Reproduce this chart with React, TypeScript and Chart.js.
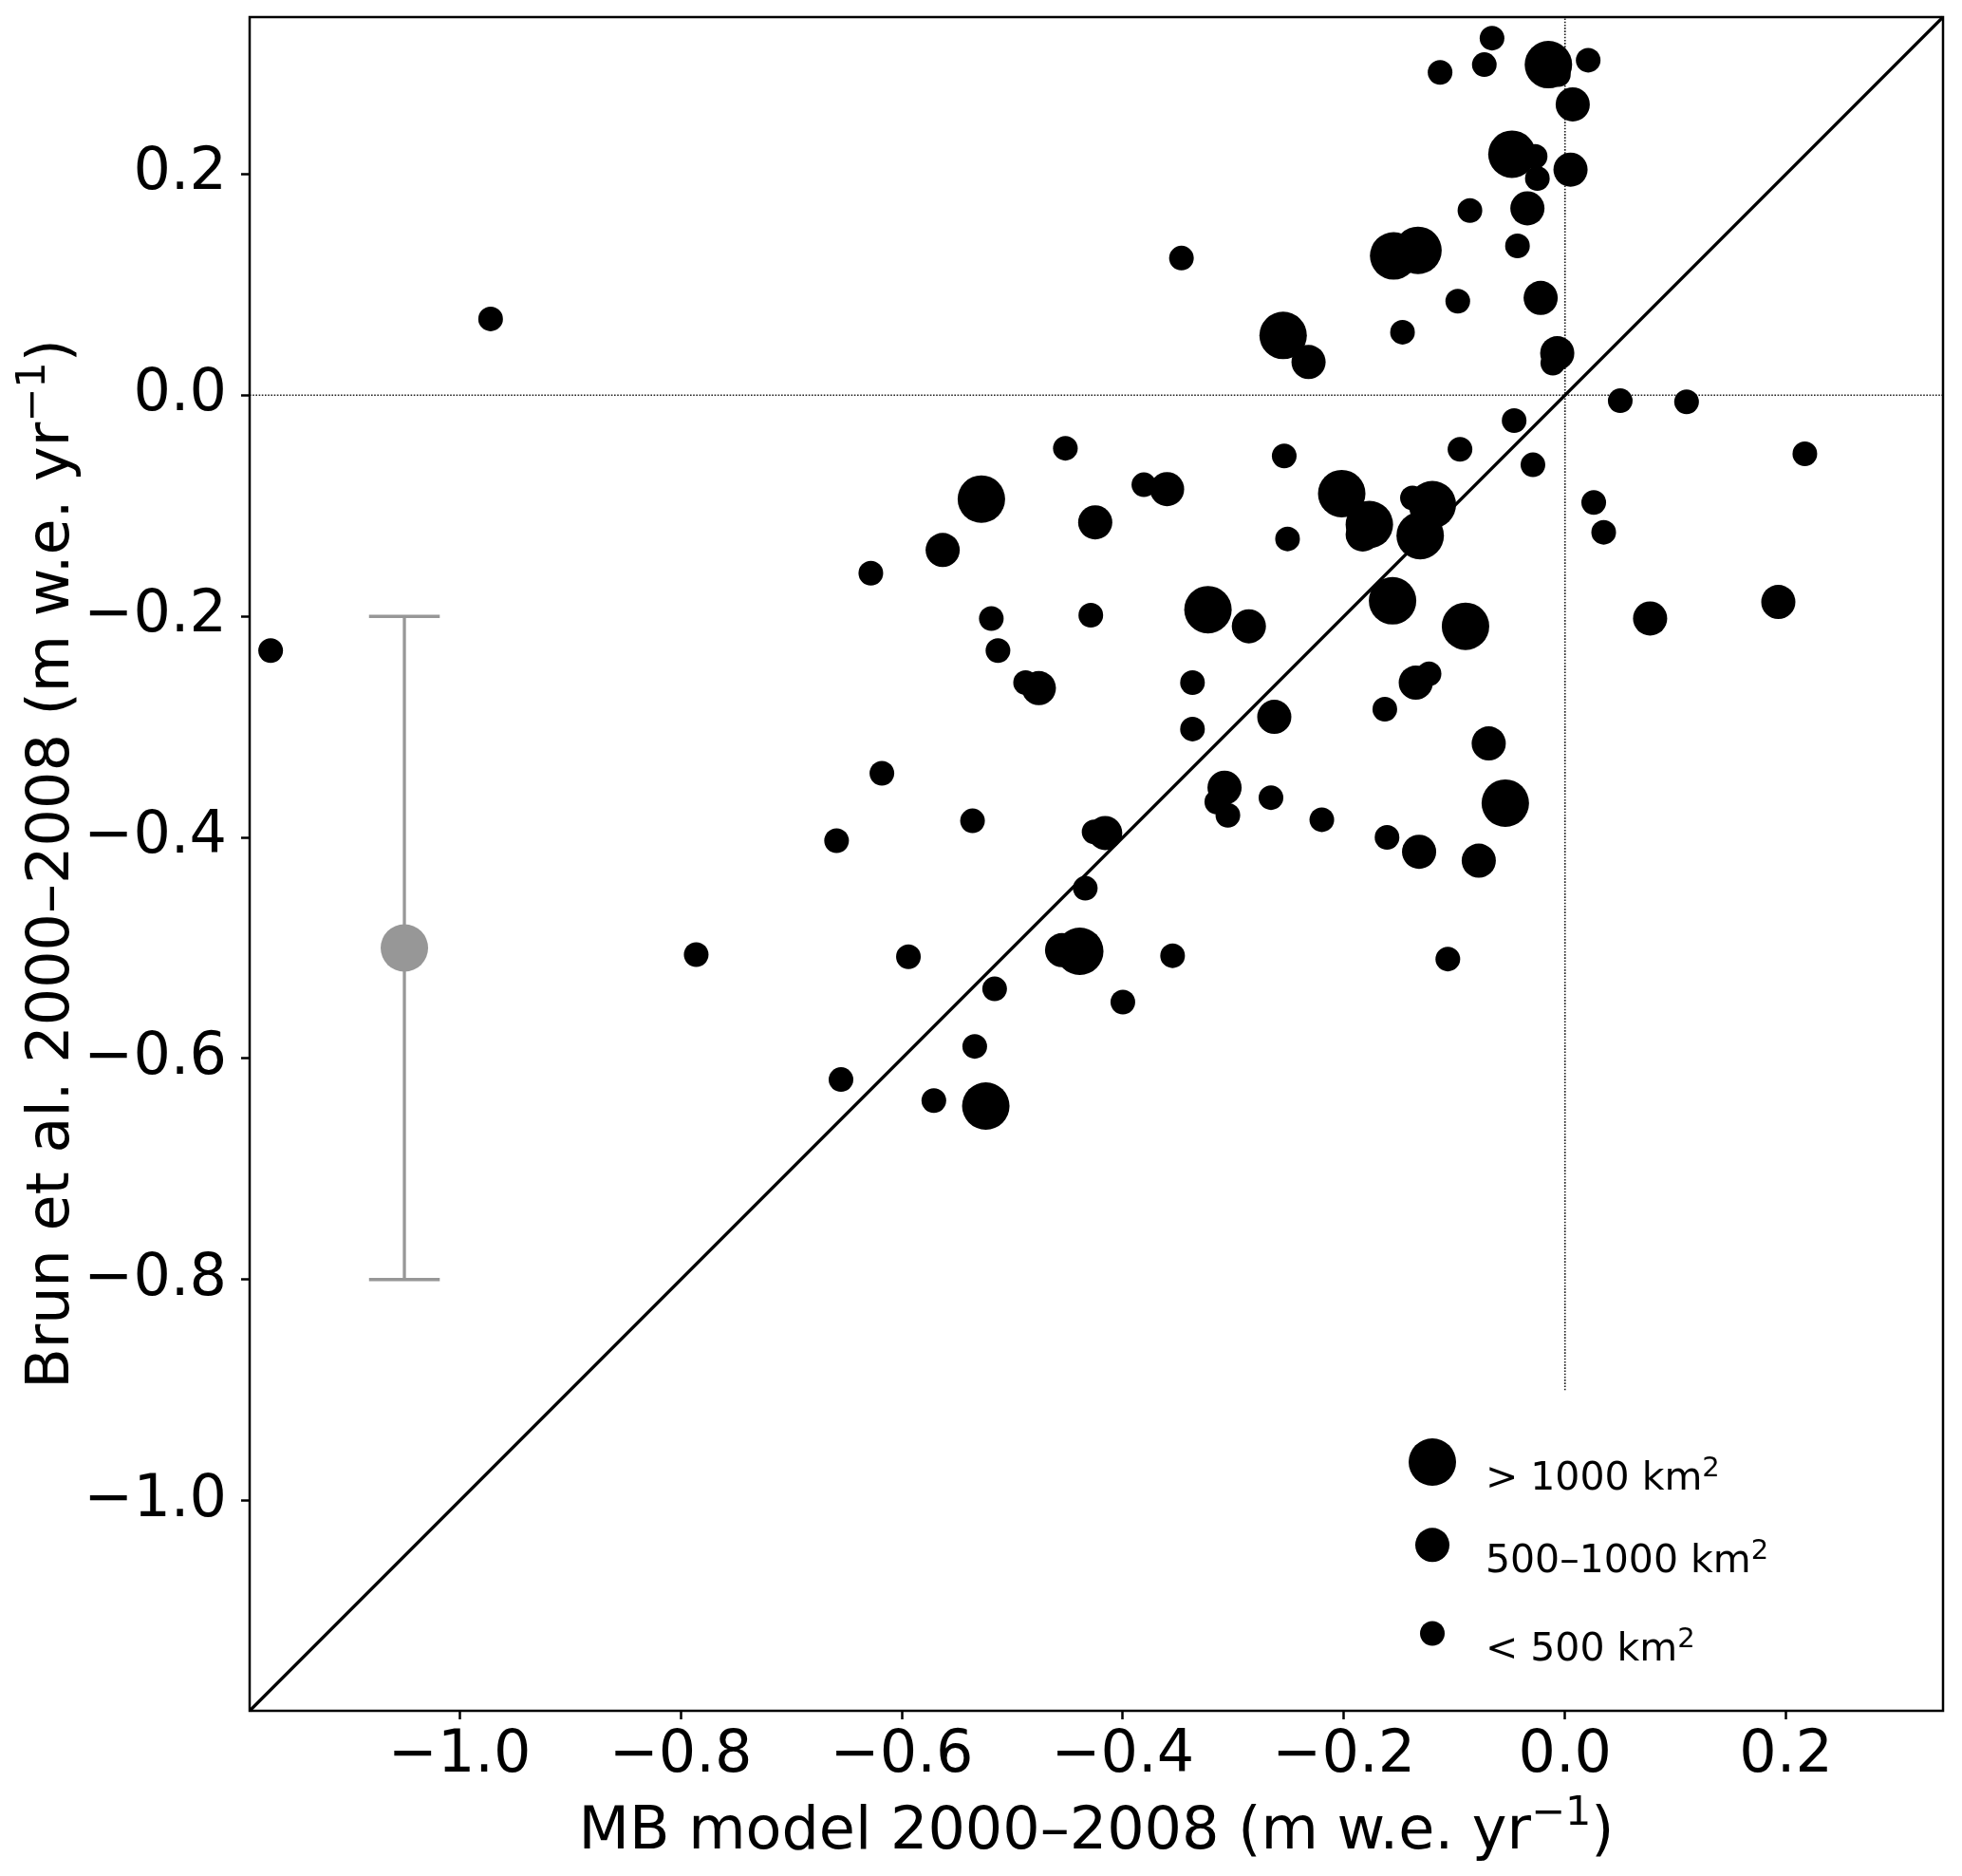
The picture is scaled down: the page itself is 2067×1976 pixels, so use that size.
import React, { useEffect, useRef } from 'react';
import { Chart, registerables } from 'chart.js';

Chart.register(...registerables);

const FONT = '"DejaVu Sans", "Liberation Sans", sans-serif';

// Axis limits (same on both axes) and tick values
const AXIS_MIN = -1.19;
const AXIS_MAX = 0.342;
const xTicks = [-1.0, -0.8, -0.6, -0.4, -0.2, 0.0, 0.2];
const yTicks = [-1.0, -0.8, -0.6, -0.4, -0.2, 0.0, 0.2];

// Axis titles: [text, superscript, text after]
const xTitle = ['MB model 2000–2008 (m w.e. yr', '\u22121', ')'];
const yTitle = ['Brun et al. 2000–2008 (m w.e. yr', '\u22121', ')'];

// Glacier area classes: [text, superscript]
const sizeClasses = [
  ['> 1000 km', '2'],
  ['500–1000 km', '2'],
  ['< 500 km', '2'],
];

// > 1000 km2
const largeX = [-0.015, -0.048, -0.155, -0.133, -0.255, -0.202, -0.177, -0.120, -0.131, -0.323, -0.156, -0.090, -0.528, -0.054, -0.439, -0.524];
const largeY = [0.299, 0.218, 0.126, 0.131, 0.054, -0.089, -0.117, -0.099, -0.127, -0.194, -0.186, -0.209, -0.094, -0.369, -0.503, -0.643];

// 500-1000 km2
const mediumX = [0.007, 0.005, -0.034, -0.022, -0.232, -0.007, -0.360, -0.425, -0.183, -0.286, -0.135, -0.263, -0.069, -0.563, -0.476, -0.308, -0.132, -0.078, -0.416, -0.455, 0.077, 0.193];
const mediumY = [0.263, 0.204, 0.169, 0.088, 0.030, 0.038, -0.085, -0.115, -0.126, -0.209, -0.260, -0.291, -0.315, -0.140, -0.265, -0.355, -0.413, -0.421, -0.396, -0.502, -0.202, -0.187];

// < 500 km2
const smallX = [-0.066, -0.073, -0.113, -0.006, 0.021, -0.027, -0.025, -0.086, -0.043, -0.097, -0.147, -0.011, 0.050, -0.046, -0.452, -0.381, -0.254, -0.251, -0.138, -0.095, -0.429, -0.337, -0.337, -0.123, -0.163, -0.628, -0.519, -0.513, -0.488, -0.618, -0.536, -0.659, -0.315, -0.305, -0.266, -0.220, -0.161, -0.426, -0.434, -0.355, -0.400, -0.106, -0.786, -0.594, -0.516, -0.534, -0.655, -0.571, 0.110, 0.217, -0.029, 0.026, 0.035, -1.171, -0.972, -0.347];
const smallY = [0.323, 0.299, 0.292, 0.290, 0.303, 0.216, 0.196, 0.167, 0.135, 0.085, 0.057, 0.029, -0.005, -0.023, -0.048, -0.081, -0.055, -0.130, -0.093, -0.049, -0.199, -0.260, -0.302, -0.252, -0.284, -0.161, -0.202, -0.231, -0.260, -0.342, -0.385, -0.403, -0.368, -0.380, -0.364, -0.384, -0.400, -0.395, -0.446, -0.507, -0.549, -0.510, -0.506, -0.508, -0.537, -0.589, -0.619, -0.638, -0.006, -0.053, -0.063, -0.097, -0.124, -0.231, 0.069, 0.124];

// Typical uncertainty bar
const errX = -1.05;
const errY = -0.5;
const errHalf = 0.3;
const capHalf = 0.032;

// Vertical zero line lower end
const zeroLineYEnd = -0.9;

// Legend anchor (data units)
const legendMarkerX = -0.12;
const legendTextX = -0.072;
const legendY = [-0.965, -1.04, -1.12];

const markerRadius = [25, 18, 13];
const GRAY = '#979797';

const pts = (xs: number[], ys: number[]) => xs.map((x, i) => ({ x, y: ys[i] }));

const fmt = (v: number) => {
  const s = Math.abs(v).toFixed(1);
  return v < -1e-9 ? '\u2212' + s : s;
};

// Draws "pre" + superscript + "post" with baseline at y; align 'left' or 'center'
function drawRich(ctx: CanvasRenderingContext2D, parts: string[], x: number, y: number, size: number, supScale: number, supRaise: number, align: 'left' | 'center') {
  const base = `${size}px ${FONT}`;
  const sup = `${Math.round(size * supScale)}px ${FONT}`;
  const [pre, sp, post = ''] = parts;
  ctx.font = base;
  const w1 = ctx.measureText(pre).width;
  const w3 = ctx.measureText(post).width;
  ctx.font = sup;
  const w2 = ctx.measureText(sp).width;
  const total = w1 + w2 + w3;
  let cx = align === 'center' ? x - total / 2 : x;
  ctx.textAlign = 'left';
  ctx.textBaseline = 'alphabetic';
  ctx.font = base;
  ctx.fillText(pre, cx, y);
  cx += w1;
  ctx.font = sup;
  ctx.fillText(sp, cx, y - supRaise);
  cx += w2;
  ctx.font = base;
  if (post) ctx.fillText(post, cx, y);
}

export default function App() {
  const ref = useRef<HTMLCanvasElement | null>(null);

  useEffect(() => {
    if (!ref.current) return;

    const framePlugin = {
      id: 'frame',
      afterDraw(chart: any) {
        const { ctx, chartArea } = chart;
        ctx.save();
        ctx.strokeStyle = '#000';
        ctx.lineWidth = 2.5;
        ctx.strokeRect(chartArea.left, chartArea.top, chartArea.right - chartArea.left, chartArea.bottom - chartArea.top);
        ctx.restore();
      },
    };

    const textPlugin = {
      id: 'richText',
      afterDraw(chart: any) {
        const { ctx, chartArea } = chart;
        const xs = chart.scales.x;
        const ys = chart.scales.y;
        ctx.save();
        ctx.fillStyle = '#000';
        // legend labels
        sizeClasses.forEach((parts, i) => {
          const px = xs.getPixelForValue(legendTextX);
          const py = ys.getPixelForValue(legendY[i]) + 29;
          drawRich(ctx, parts, px, py, 41, 0.7, 14, 'left');
        });
        // x title
        const cx = (chartArea.left + chartArea.right) / 2;
        drawRich(ctx, xTitle, cx, chartArea.bottom + 145, 62, 0.7, 25, 'center');
        // y title (rotated)
        const cy = (chartArea.top + chartArea.bottom) / 2;
        ctx.translate(chartArea.left - 191, cy);
        ctx.rotate(-Math.PI / 2);
        drawRich(ctx, yTitle, 0, 0, 62, 0.7, 25, 'center');
        ctx.restore();
      },
    };

    const lineDs = (data: any[], color: string, width: number, order: number, dash: number[] = []) => ({
      type: 'scatter' as const,
      data,
      showLine: true,
      borderColor: color,
      borderWidth: width,
      borderDash: dash,
      pointRadius: 0,
      pointHoverRadius: 0,
      fill: false,
      order,
      clip: 4,
    });

    const dotDs = (data: any[], color: string, radius: number | number[], order: number) => ({
      type: 'scatter' as const,
      data,
      showLine: false,
      backgroundColor: color,
      borderWidth: 0,
      pointRadius: radius,
      pointHoverRadius: radius,
      order,
      clip: 30,
    });

    const chart = new Chart(ref.current, {
      type: 'scatter',
      data: {
        datasets: [
          lineDs([{ x: AXIS_MIN, y: 0 }, { x: AXIS_MAX, y: 0 }], '#222', 1.7, 20, [1.6, 1.6]),
          lineDs([{ x: 0, y: zeroLineYEnd }, { x: 0, y: AXIS_MAX }], '#222', 1.7, 20, [1.6, 1.6]),
          lineDs([{ x: AXIS_MIN, y: AXIS_MIN }, { x: AXIS_MAX, y: AXIS_MAX }], '#000', 3.2, 15),
          lineDs([{ x: errX, y: errY - errHalf }, { x: errX, y: errY + errHalf }], GRAY, 3.3, 10),
          lineDs([{ x: errX - capHalf, y: errY + errHalf }, { x: errX + capHalf, y: errY + errHalf }], GRAY, 3.5, 10),
          lineDs([{ x: errX - capHalf, y: errY - errHalf }, { x: errX + capHalf, y: errY - errHalf }], GRAY, 3.5, 10),
          dotDs([{ x: errX, y: errY }], GRAY, markerRadius[0], 9),
          dotDs(pts(smallX, smallY), '#000', markerRadius[2], 3),
          dotDs(pts(mediumX, mediumY), '#000', markerRadius[1], 2),
          dotDs(pts(largeX, largeY), '#000', markerRadius[0], 1),
          dotDs(legendY.map((y) => ({ x: legendMarkerX, y })), '#000', markerRadius, 1),
        ] as any,
      },
      options: {
        responsive: false,
        animation: false,
        events: [],
        devicePixelRatio: 1,
        layout: { autoPadding: false, padding: { left: 0, right: 20, top: 18, bottom: 0 } },
        plugins: {
          legend: { display: false },
          tooltip: { enabled: false },
        },
        scales: {
          x: {
            type: 'linear',
            position: 'bottom',
            min: AXIS_MIN,
            max: AXIS_MAX,
            afterBuildTicks: (s: any) => {
              s.ticks = xTicks.map((v) => ({ value: v }));
            },
            afterFit: (s: any) => {
              s.height = 174;
              s.paddingLeft = 0;
              s.paddingRight = 0;
            },
            ticks: {
              callback: (v: any) => fmt(Number(v)),
              font: { family: FONT, size: 62 },
              color: '#000',
              padding: 2,
              autoSkip: false,
              maxRotation: 0,
              minRotation: 0,
            },
            grid: {
              display: true,
              drawOnChartArea: false,
              drawTicks: true,
              tickLength: 9,
              tickWidth: 2.5,
              tickColor: '#000',
            },
            border: { display: false },
            title: { display: false },
          },
          y: {
            type: 'linear',
            position: 'left',
            min: AXIS_MIN,
            max: AXIS_MAX,
            afterBuildTicks: (s: any) => {
              s.ticks = yTicks.map((v) => ({ value: v }));
            },
            afterFit: (s: any) => {
              s.width = 263;
              s.paddingTop = 0;
              s.paddingBottom = 0;
            },
            ticks: {
              callback: (v: any) => fmt(Number(v)),
              font: { family: FONT, size: 62 },
              color: '#000',
              padding: 15,
              autoSkip: false,
            },
            grid: {
              display: true,
              drawOnChartArea: false,
              drawTicks: true,
              tickLength: 9,
              tickWidth: 2.5,
              tickColor: '#000',
            },
            border: { display: false },
            title: { display: false },
          },
        },
      },
      plugins: [framePlugin, textPlugin],
    } as any);

    return () => chart.destroy();
  }, []);

  return (
    <div style={{ position: 'absolute', left: 0, top: 0, width: 2067, height: 1976, background: '#fff' }}>
      <canvas ref={ref} width={2067} height={1976} style={{ display: 'block' }} />
    </div>
  );
}
